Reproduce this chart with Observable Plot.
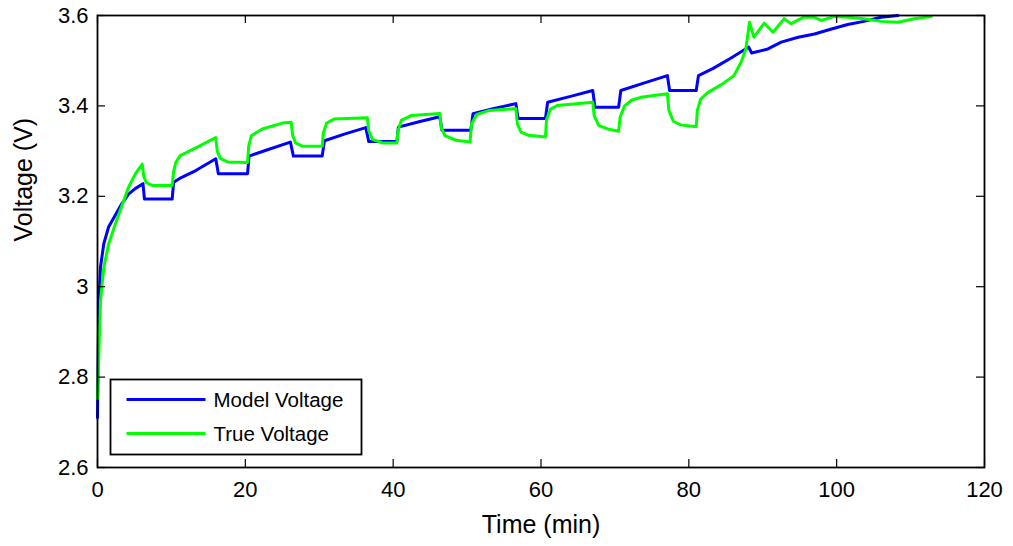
<!DOCTYPE html>
<html>
<head>
<meta charset="utf-8">
<script src="https://cdn.jsdelivr.net/npm/d3@7"></script>
<script src="https://cdn.jsdelivr.net/npm/@observablehq/plot@0.6"></script>
<style>
  body { margin: 0; background: #fff; }
  #wrap { position: relative; width: 1013px; height: 546px; font-family: "Liberation Sans", Arial, sans-serif; }
  #legend { position: absolute; left: 0; top: 0; }
</style>
</head>
<body>
<div id="wrap"></div>
<script>
// ---- data ----
const seriesNames = ["Model Voltage", "True Voltage"];
const seriesColors = ["#0000ff", "#00ff00"];

const modelTime = [
  0, 0.1, 0.2, 0.4, 0.85, 1.5, 2.4, 3.3, 4.2, 5.1, 6.15, 6.35, 10.1,
  10.3, 11.4, 13.3, 16.0, 16.35, 20.3,
  20.5, 23.0, 26.1, 26.5, 30.4,
  30.7, 33.5, 36.3, 36.7, 40.5,
  40.7, 43.5, 46.3, 46.6, 50.5,
  50.8, 53.5, 56.6, 56.9, 60.6,
  60.9, 64.0, 67.0, 67.3, 70.5,
  70.8, 74.0, 77.1, 77.4, 81.0,
  81.3, 83.3, 85.6, 87.4, 88.1, 88.5, 90.7, 92.5, 94.8, 97.0, 99.3,
  101.5, 103.7, 106.0, 108.3
];
const modelVoltage = [
  2.71, 2.86, 2.97, 3.043, 3.095, 3.132, 3.158, 3.184, 3.205, 3.217, 3.228, 3.194, 3.194,
  3.231, 3.242, 3.257, 3.283, 3.25, 3.25,
  3.289, 3.303, 3.32, 3.289, 3.289,
  3.323, 3.338, 3.352, 3.321, 3.321,
  3.353, 3.365, 3.376, 3.346, 3.346,
  3.383, 3.394, 3.405, 3.372, 3.372,
  3.408, 3.421, 3.434, 3.397, 3.397,
  3.434, 3.451, 3.467, 3.434, 3.434,
  3.467, 3.483, 3.505, 3.523, 3.53, 3.517, 3.526, 3.541, 3.552, 3.559, 3.57,
  3.58, 3.587, 3.596, 3.6
];

const trueTime = [
  0, 0.2, 0.4, 0.85, 1.5, 2.4, 3.3, 4.2, 5.1, 6.05, 6.25, 6.6, 7.4, 10.1,
  10.3, 10.6, 11.2, 13.9, 16.0, 16.2, 16.6, 17.6, 20.3,
  20.45, 20.8, 22.3, 25.0, 26.2, 26.4, 26.8, 27.7, 30.4,
  30.55, 31.0, 32.0, 36.5, 36.7, 37.2, 38.6, 40.5,
  40.65, 41.1, 42.5, 46.3, 46.5, 47.0, 48.5, 50.4,
  50.6, 51.3, 53.0, 56.6, 56.8, 57.3, 58.3, 60.6,
  60.75, 61.3, 62.2, 67.0, 67.2, 67.8, 69.0, 70.5,
  70.7, 71.3, 72.3, 73.5, 77.1, 77.3, 77.9, 78.9, 81.0,
  81.15, 81.6, 82.6, 84.4, 86.1, 87.1, 87.7, 88.0, 88.2, 88.8, 90.2, 91.4, 92.9, 93.8,
  95.5, 97.0, 97.9, 99.7, 101.6, 103.7, 106.0, 108.3, 110.5, 112.8
];
const trueVoltage = [
  2.752, 2.86, 2.968, 3.042, 3.094, 3.138, 3.179, 3.22, 3.249, 3.271, 3.245, 3.23, 3.224, 3.224,
  3.255, 3.275, 3.29, 3.312, 3.33, 3.3, 3.284, 3.276, 3.275,
  3.31, 3.334, 3.349, 3.362, 3.364, 3.335, 3.318, 3.311, 3.311,
  3.34, 3.362, 3.371, 3.374, 3.345, 3.326, 3.318, 3.318,
  3.345, 3.368, 3.379, 3.383, 3.352, 3.334, 3.324, 3.32,
  3.36, 3.381, 3.39, 3.394, 3.36, 3.342, 3.335, 3.331,
  3.37, 3.393, 3.401, 3.408, 3.378, 3.357, 3.349, 3.344,
  3.375, 3.4, 3.413, 3.419, 3.427, 3.39, 3.366, 3.358, 3.354,
  3.39, 3.415, 3.43, 3.447, 3.467, 3.498, 3.525, 3.56, 3.585, 3.552, 3.583, 3.563, 3.593, 3.582,
  3.596, 3.596, 3.589, 3.598, 3.596, 3.593, 3.587, 3.585, 3.593, 3.598
];

const xTicks = [0, 20, 40, 60, 80, 100, 120];
const yTicks = [2.6, 2.8, 3.0, 3.2, 3.4, 3.6];
const xLabel = "Time (min)";
const yLabel = "Voltage (V)";

// ---- build ----
const model = modelTime.map((t, i) => ({ t, v: modelVoltage[i] }));
const truth = trueTime.map((t, i) => ({ t, v: trueVoltage[i] }));

const W = 1013, H = 546, mL = 97, mR = 29, mT = 15, mB = 79;
const plotW = W - mL - mR, plotH = H - mT - mB, tickLen = 8;

const chart = Plot.plot({
  width: W, height: H,
  marginLeft: mL, marginRight: mR, marginTop: mT, marginBottom: mB,
  style: { fontFamily: '"Liberation Sans", Arial, sans-serif', fontSize: "22px", color: "#000", background: "#fff", overflow: "visible" },
  x: { domain: [0, 120] },
  y: { domain: [2.6, 3.6] },
  marks: [
    Plot.line(model, { x: "t", y: "v", stroke: seriesColors[0], strokeWidth: 3 }),
    Plot.line(truth, { x: "t", y: "v", stroke: seriesColors[1], strokeWidth: 3 }),
    Plot.frame({ stroke: "#000", strokeWidth: 1.8 }),
    Plot.tickX(xTicks, { x: d => d, insetTop: plotH - tickLen, stroke: "#000", strokeWidth: 1.2 }),
    Plot.tickX(xTicks, { x: d => d, insetBottom: plotH - tickLen, stroke: "#000", strokeWidth: 1.2 }),
    Plot.tickY(yTicks, { y: d => d, insetRight: plotW - tickLen, stroke: "#000", strokeWidth: 1.2 }),
    Plot.tickY(yTicks, { y: d => d, insetLeft: plotW - tickLen, stroke: "#000", strokeWidth: 1.2 }),
    Plot.axisX(xTicks, { tickSize: 0, tickPadding: 14, label: null, fontSize: 22, tickFormat: d => String(d) }),
    Plot.axisY(yTicks, { tickSize: 0, tickPadding: 9, label: null, fontSize: 22, tickFormat: d => String(+d.toFixed(1)) }),
    Plot.text([xLabel], { frameAnchor: "bottom", text: d => d, dy: 57, fontSize: 25, lineAnchor: "middle", fill: "#000" }),
    Plot.text([yLabel], { frameAnchor: "left", text: d => d, dx: -74, rotate: -90, fontSize: 25, lineAnchor: "middle", fill: "#000" })
  ]
});

const wrap = document.getElementById("wrap");
wrap.appendChild(chart);

// legend overlay (inside plot area, bottom-left)
const lg = d3.select(wrap).append("svg")
  .attr("id", "legend")
  .attr("width", W).attr("height", H)
  .style("pointer-events", "none")
  .style("font-family", '"Liberation Sans", Arial, sans-serif');
const box = { x: 110.5, y: 379.5, w: 251, h: 75 };
lg.append("rect").attr("x", box.x).attr("y", box.y).attr("width", box.w).attr("height", box.h)
  .attr("fill", "#fff").attr("stroke", "#000").attr("stroke-width", 1.8);
seriesNames.forEach((name, i) => {
  const cy = box.y + 20 + i * 34;
  lg.append("line").attr("x1", box.x + 16).attr("x2", box.x + 95).attr("y1", cy).attr("y2", cy)
    .attr("stroke", seriesColors[i]).attr("stroke-width", 3);
  lg.append("text").attr("x", box.x + 103).attr("y", cy).attr("dy", "0.36em")
    .attr("font-size", 20.5).attr("fill", "#000").text(name);
});
</script>
</body>
</html>
